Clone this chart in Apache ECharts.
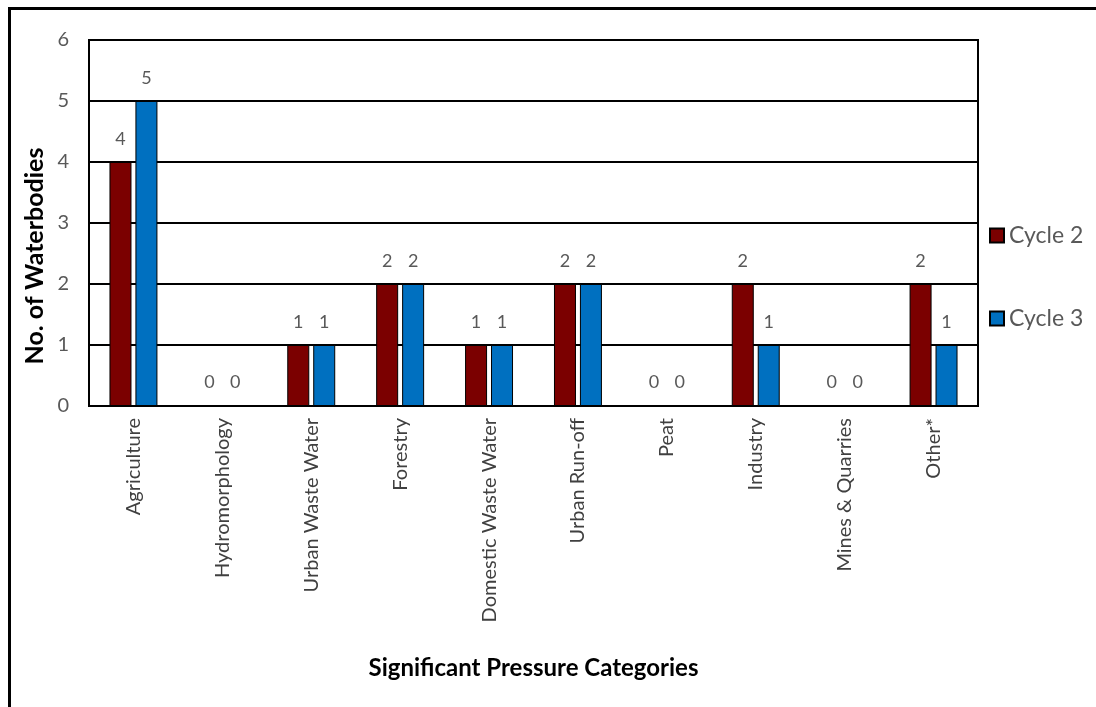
<!DOCTYPE html>
<html>
<head>
<meta charset="utf-8">
<script src="https://cdn.jsdelivr.net/npm/echarts@6/dist/echarts.min.js"></script>
<style>
html, body { margin: 0; padding: 0; background: #fff; }
#chart { width: 1096px; height: 707px; }
</style>
</head>
<body>
<div id="chart"></div>
<script>
const categories = ['Agriculture', 'Hydromorphology', 'Urban Waste Water', 'Forestry',
    'Domestic Waste Water', 'Urban Run-off', 'Peat', 'Industry', 'Mines & Quarries', 'Other*'];
const cycle2 = [4, 0, 1, 2, 1, 2, 0, 2, 0, 2];
const cycle3 = [5, 0, 1, 2, 1, 2, 0, 1, 0, 1];

const font = 'Lato, "Open Sans", sans-serif';
const myChart = echarts.init(document.getElementById('chart'));

const option = {
    backgroundColor: '#fff',
    textStyle: { fontFamily: font },
    graphic: [{
        type: 'rect',
        shape: { x: 9.5, y: 8.5, width: 1200, height: 800 },
        style: { fill: 'none', stroke: '#000', lineWidth: 3 },
        z: -1
    }, {
        // y axis title, sits a bit below the plot centre like the original
        type: 'text',
        x: 35,
        y: 256,
        rotation: Math.PI / 2,
        style: {
            text: 'No. of Waterbodies',
            fontSize: 25,
            fontWeight: 'bold',
            fontFamily: font,
            fill: '#000',
            align: 'center',
            verticalAlign: 'middle'
        }
    }],
    legend: {
        orient: 'vertical',
        left: 984,
        top: 219,
        itemGap: 60,
        itemWidth: 14,
        itemHeight: 14,
        icon: 'rect',
        textStyle: { fontSize: 23, color: '#595959', fontFamily: font },
        data: ['Cycle 2', 'Cycle 3']
    },
    grid: {
        left: 89,
        top: 40,
        width: 889,
        height: 366,
        show: true,
        borderColor: '#000',
        borderWidth: 2
    },
    xAxis: {
        type: 'category',
        data: categories,
        axisLine: { lineStyle: { color: '#000', width: 2 } },
        axisTick: { show: false },
        axisLabel: { rotate: 90, fontSize: 20, color: '#404040', margin: 12, interval: 0 },
        name: 'Significant Pressure Categories',
        nameLocation: 'middle',
        nameGap: 250,
        nameTextStyle: { fontSize: 24, fontWeight: 'bold', color: '#000' }
    },
    yAxis: {
        type: 'value',
        min: 0,
        max: 6,
        interval: 1,
        axisLine: { show: true, lineStyle: { color: '#000', width: 2 } },
        axisTick: { show: false },
        splitLine: { lineStyle: { color: '#000', width: 2 } },
        axisLabel: { fontSize: 20, color: '#595959', margin: 20 },
        name: ''
    },
    series: [{
        name: 'Cycle 2',
        type: 'bar',
        data: cycle2,
        barWidth: 22,
        barGap: '18%',
        itemStyle: { color: '#7B0000', borderColor: '#000', borderWidth: 1 },
        label: { show: true, position: 'top', distance: 14, fontSize: 18, color: '#595959' }
    }, {
        name: 'Cycle 3',
        type: 'bar',
        data: cycle3,
        barWidth: 22,
        itemStyle: { color: '#0070C0', borderColor: '#000', borderWidth: 1 },
        label: { show: true, position: 'top', distance: 14, fontSize: 18, color: '#595959' }
    }]
};

myChart.setOption(option);
window.addEventListener('resize', function () {
    myChart.resize();
});
</script>
</body>
</html>
